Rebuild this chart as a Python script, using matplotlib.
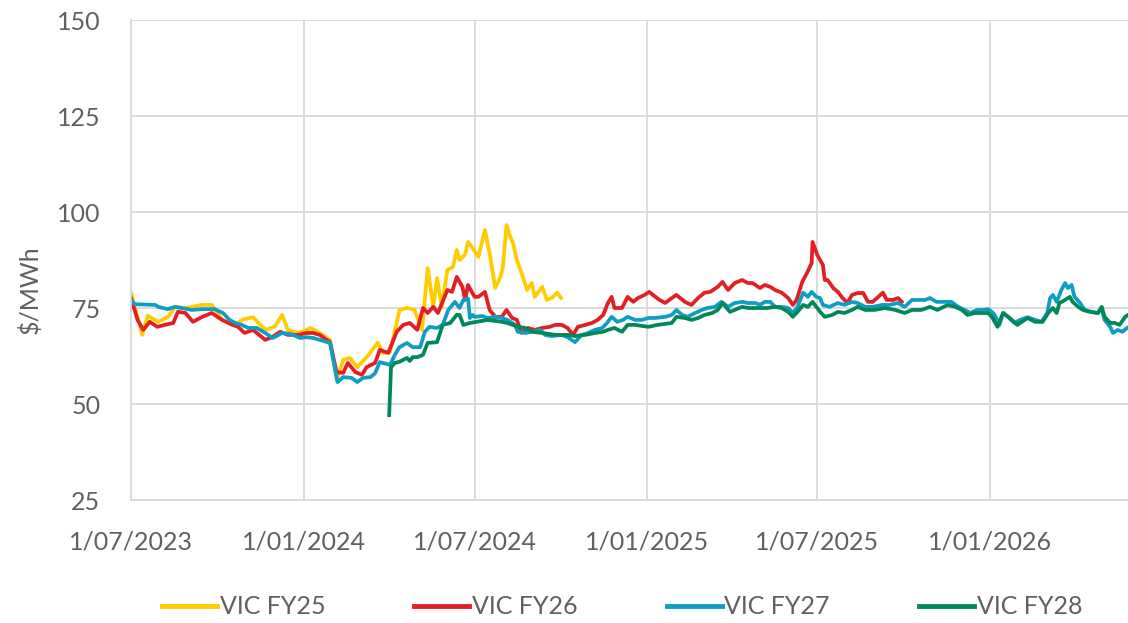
import numpy as np
import pandas as pd
import matplotlib
matplotlib.use('Agg')
import matplotlib.pyplot as plt

# values: day offsets from 1/07/2023 and $/MWh
start = pd.Timestamp('2023-07-01')

fy25_days = [0, 12, 18, 29, 39, 47, 58, 76, 86, 97, 111, 119, 130, 143, 153, 161, 167, 178, 187, 191,
             199, 212, 219, 226, 233, 241, 251, 263, 268, 276, 286, 294, 302, 310, 316, 322, 326, 331,
             337, 343, 347, 350, 356, 359, 364, 370, 377, 382, 388, 393, 396, 400, 404, 407, 411, 416,
             422, 427, 430, 438, 443, 448, 454, 458]
fy25_vals = [79, 68, 73, 71.4, 72.6, 75.3, 75, 75.8, 75.8, 71.9, 70.6, 72, 72.6, 69.3, 70.1, 73.2, 69.3,
             68.5, 69.3, 69.8, 68.8, 66.7, 56.3, 61.5, 62, 59.6, 62.2, 66, 63.3, 63.5, 74.5, 75, 74.5,
             69.3, 85.4, 75.3, 82.8, 75.3, 84.9, 85.7, 90.1, 87.5, 89, 92.2, 90.6, 88.3, 95.3, 89.3, 80.2,
             82.8, 85.4, 96.6, 93.5, 91.9, 87.5, 84.1, 79.7, 81.5, 77.9, 80.5, 77.1, 77.6, 79, 77.6]

fy26_days = [0, 7, 13, 20, 28, 36, 45, 50, 58, 66, 76, 86, 97, 108, 114, 121, 130, 143, 150, 159, 167,
             178, 187, 194, 201, 212, 219, 226, 231, 239, 246, 251, 260, 265, 274, 283, 290, 297, 305,
             311, 316, 322, 327, 337, 342, 347, 353, 356, 359, 366, 370, 377, 382, 388, 395, 400, 406,
             411, 416, 423, 430, 438, 446, 452, 459, 465, 471, 476, 484, 491, 497, 503, 508, 512, 515,
             523, 529, 535, 540, 547, 552, 556, 563, 569, 576, 581, 590, 597, 604, 611, 617, 625, 630,
             636, 643, 651, 657, 662, 670, 675, 681, 686, 693, 700, 705, 709, 715, 720, 725, 726, 731,
             734, 737, 739, 742, 748, 753, 758, 763, 768, 774, 780, 785, 790, 796, 801, 805, 812, 817, 821]
fy26_vals = [77.6, 71.9, 69.3, 71.4, 70.1, 70.6, 71.1, 74, 73.7, 71.4, 72.7, 73.7, 71.9, 70.6, 70.1,
             68.5, 69.3, 66.7, 67.4, 68.8, 68, 68, 68.5, 68.5, 68, 66.1, 58.3, 58.1, 60.7, 58.3, 57.6,
             59.6, 60.7, 64.1, 63.3, 68.8, 70.6, 71.1, 69.3, 75, 73.7, 75.3, 73.7, 79.7, 79.2, 83.1,
             80.5, 77.1, 81, 77.9, 77.9, 79.2, 74.5, 72.7, 72.7, 74.5, 72.4, 71.9, 68.5, 69.8, 69.3,
             69.8, 70.1, 70.6, 70.6, 69.8, 68, 70.1, 70.6, 71.1, 71.9, 73.2, 76.3, 77.9, 75, 75, 77.9,
             76.6, 77.6, 78.4, 79.2, 78.4, 77.1, 76.3, 77.6, 78.4, 76.6, 75.8, 77.6, 79, 79.2, 80.5,
             81.8, 79.7, 81.5, 82.3, 81.5, 81.5, 80.2, 81, 80.5, 79.7, 79, 77.6, 75.8, 77.1, 81.8, 84.1,
             86.7, 92.2, 88.8, 87.5, 86.2, 82.3, 82.3, 80.2, 79.2, 77.6, 76.3, 78.4, 78.9, 78.9, 76.6,
             76.6, 77.9, 79, 77.1, 77.1, 77.6, 76.6]

fy27_days = [0, 4, 26, 29, 39, 47, 54, 65, 76, 89, 98, 105, 111, 118, 125, 134, 143, 151, 161, 171,
             180, 187, 194, 201, 212, 220, 226, 235, 241, 247, 255, 260, 265, 276, 281, 286, 294, 300,
             308, 313, 318, 326, 332, 338, 345, 350, 354, 359, 361, 364, 366, 374, 380, 388, 395, 401,
             409, 412, 420, 427, 436, 441, 448, 459, 465, 473, 480, 487, 494, 502, 507, 512, 518, 524,
             529, 537, 544, 551, 558, 569, 576, 581, 587, 593, 601, 608, 614, 622, 629, 636, 643, 651,
             657, 665, 670, 675, 681, 686, 693, 700, 705, 710, 716, 721, 725, 730, 734, 737, 744, 753,
             760, 768, 774, 782, 790, 800, 808, 817, 824, 832, 838, 846, 851, 858, 867, 874, 881, 888,
             894, 901, 907, 913, 917, 920, 925, 929, 934, 941, 947, 955, 963, 970, 976, 979, 982, 986,
             991, 995, 998, 1002, 1005, 1011, 1016, 1023, 1030, 1034, 1037, 1043, 1046, 1051, 1056, 1061]
fy27_vals = [77.1, 76, 75.8, 75.3, 74.7, 75.3, 75, 74.5, 74.7, 74.7, 73.7, 71.9, 71.1, 70.6, 69.8, 69.8,
             68.5, 67.2, 68.5, 68.2, 67.2, 67.4, 67.2, 66.7, 65.9, 55.7, 57, 56.8, 55.7, 56.8, 57, 58,
             60.9, 60.2, 62.8, 64.8, 65.9, 64.8, 64.8, 68.8, 70.1, 69.8, 70.6, 74.5, 76.6, 75, 77.1,
             77.5, 72.4, 73.2, 72.7, 72.9, 72.4, 72.7, 72.4, 71.9, 70.6, 68.8, 68.5, 68.8, 69.3, 68,
             67.7, 68, 67.4, 66.1, 68, 68.5, 69.3, 69.8, 71.1, 72.7, 71.4, 71.9, 72.7, 71.9, 71.9, 72.4,
             72.4, 72.7, 73.2, 74.5, 73.2, 72.7, 73.7, 74.5, 75, 75.3, 76.6, 75.3, 76.3, 76.6, 76.3,
             76.3, 75.8, 76.6, 76.6, 75.3, 75.3, 75, 73.7, 75.3, 79, 77.9, 79.2, 77.9, 77.6, 75.8, 75.3,
             76.3, 75.8, 76.6, 76.3, 75.3, 75.3, 75.8, 75.8, 76.3, 75.3, 77.1, 77.1, 77.1, 77.6, 76.6,
             76.6, 76.6, 75.3, 74.5, 73.7, 74.5, 74.5, 74.7, 74, 73.2, 70.6, 73.7, 72.7, 71.1, 71.9,
             72.6, 71.9, 71.4, 73.7, 77.6, 78.4, 76.6, 79.7, 81.5, 80.2, 81, 77.9, 76.3, 74.5, 74, 73.7,
             75, 71.9, 70.1, 68.5, 69.3, 68.8, 69.8]

fy28_days = [275, 277, 281, 286, 294, 297, 300, 305, 311, 316, 326, 332, 340, 347, 350, 354, 361, 368,
             380, 395, 401, 412, 420, 428, 438, 452, 465, 473, 484, 494, 503, 508, 515, 523, 529, 537,
             551, 561, 576, 581, 590, 597, 604, 611, 619, 625, 630, 638, 643, 651, 657, 668, 678, 686,
             693, 700, 705, 710, 716, 721, 726, 731, 734, 739, 747, 753, 760, 768, 774, 782, 792, 803,
             814, 824, 832, 842, 851, 859, 870, 878, 885, 891, 899, 906, 913, 917, 923, 929, 936, 944,
             949, 955, 963, 971, 977, 982, 986, 989, 995, 1000, 1003, 1009, 1014, 1021, 1030, 1034,
             1037, 1043, 1048, 1053, 1059, 1062]
fy28_vals = [47.1, 59.6, 60.7, 61, 62, 61.2, 62.2, 62.2, 62.8, 65.9, 66.1, 70.6, 71.1, 73.2, 73.2, 70.6,
             71.1, 71.4, 71.9, 71.4, 71.1, 70.1, 69.8, 68.8, 68.5, 68, 68, 67.7, 68, 68.5, 68.8, 69.3,
             69.8, 68.8, 70.6, 70.6, 70.1, 70.6, 71.1, 72.7, 72.4, 71.9, 72.4, 73.2, 73.7, 74.5, 76.3,
             74, 74.5, 75.3, 75, 75, 75, 75.3, 75, 74, 72.7, 74, 75.8, 75.3, 76.6, 75, 74, 72.7, 73.2,
             74, 73.7, 74.5, 75.3, 74.5, 74.5, 75, 74.5, 73.7, 74.5, 74.5, 75.3, 74.5, 75.8, 75.3, 74.5,
             73.2, 73.7, 73.7, 73.7, 72.7, 70.1, 73.7, 72.4, 70.6, 71.4, 72.4, 71.4, 71.4, 73.7, 75,
             73.7, 76.3, 77.1, 77.9, 76.6, 75.3, 74.5, 74, 73.7, 75.3, 72.7, 71.1, 71.1, 70.6, 72.7, 73.2]

series_names = ['VIC FY25', 'VIC FY26', 'VIC FY27', 'VIC FY28']
colors = ['#FFCC00', '#E31E24', '#109DC4', '#00875A']

tick_dates = ['2023-07-01', '2024-01-01', '2024-07-01', '2025-01-01', '2025-07-01', '2026-01-01']
tick_labels = ['1/07/2023', '1/01/2024', '1/07/2024', '1/01/2025', '1/07/2025', '1/01/2026']
y_ticks = [25, 50, 75, 100, 125, 150]

plt.rcParams['font.family'] = ['Lato', 'DejaVu Sans']
text_col = '#606060'
grid_col = '#D9D9D9'
fs = 18

fig = plt.figure(figsize=(11.28, 6.23), dpi=100)
ax = fig.add_axes([131 / 1128, 123 / 623, 997 / 1128, 480 / 623])

all_days = [fy25_days, fy26_days, fy27_days, fy28_days]
all_vals = [fy25_vals, fy26_vals, fy27_vals, fy28_vals]
for d, v, name, c in zip(all_days, all_vals, series_names, colors):
    dates = start + pd.to_timedelta(d, unit='D')
    ax.plot(dates, v, color=c, lw=2.7, label=name, solid_joinstyle='round')

ax.set_ylim(25, 150)
ax.set_xlim(start, start + pd.Timedelta(days=1062))
ax.set_yticks(y_ticks)
ax.set_xticks(pd.to_datetime(tick_dates))
ax.set_xticklabels(tick_labels)

ax.grid(True, color=grid_col, lw=1.3)
ax.set_axisbelow(True)
for s in ['top', 'right']:
    ax.spines[s].set_visible(False)
for s in ['left', 'bottom']:
    ax.spines[s].set_color(grid_col)
    ax.spines[s].set_linewidth(1.3)
ax.tick_params(axis='both', length=0, labelsize=fs, labelcolor=text_col)
ax.tick_params(axis='y', pad=22)
ax.tick_params(axis='x', pad=22)

fig.text(30 / 1128, 1 - 290 / 623, '$/MWh', rotation=90, ha='center', va='center',
         fontsize=fs, color=text_col)

leg = fig.legend(loc='center', bbox_to_anchor=(622 / 1128, 16 / 623), ncol=4, frameon=False,
                 handlelength=2.2, handletextpad=0.12, columnspacing=3.55,
                 prop={'size': fs})
for t in leg.get_texts():
    t.set_color(text_col)
for h in leg.legend_handles:
    h.set_linewidth(3.5)

fig.savefig('out.png', dpi=100)
